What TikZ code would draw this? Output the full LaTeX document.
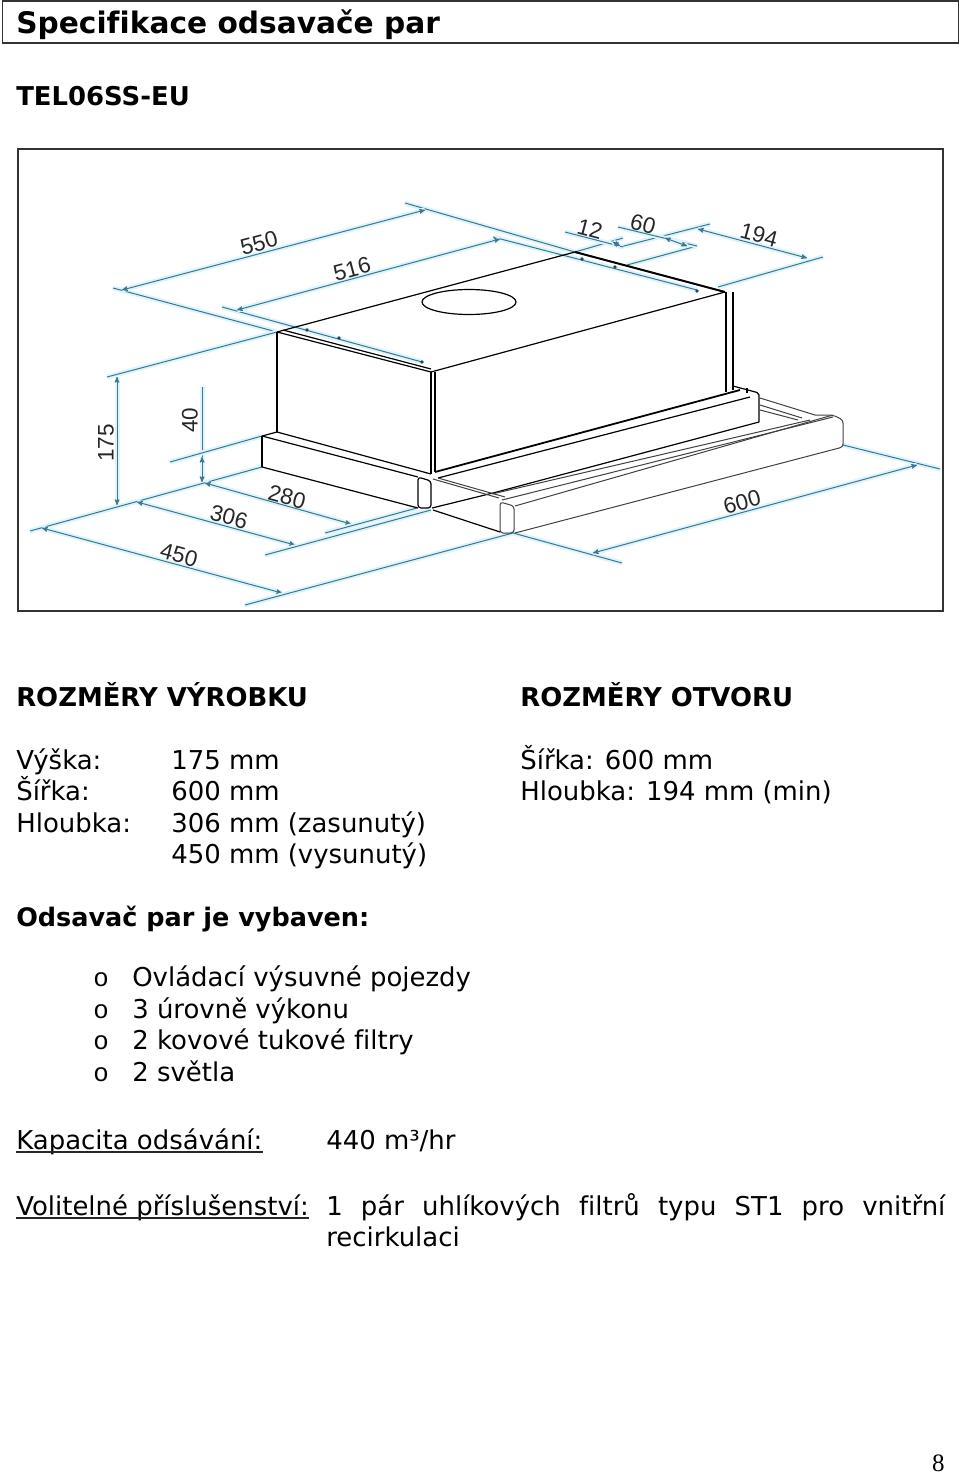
\documentclass[tikz,border=0pt]{standalone}
\usepackage{fontspec}
\setmainfont{DejaVu Sans}[Ligatures=NoCommon]
\newfontfamily\sizefont{Liberation Sans}
\newfontfamily\monofont{Liberation Mono}
\newfontfamily\pagefont{Liberation Serif}
\usetikzlibrary{arrows}

\definecolor{dimblue}{RGB}{58,118,142}
\definecolor{dimglow}{RGB}{222,244,252}

\begin{document}
\begin{tikzpicture}[x=1pt,y=-1pt,>=stealth',semithick]

  \tikzstyle{body}=[anchor=base west,inner sep=0pt,font=\fontsize{25.95}{31}\selectfont]
  \tikzstyle{head}=[anchor=base west,inner sep=0pt,font=\bfseries\fontsize{25.9}{31}\selectfont]
  \tikzstyle{hood}=[black,line width=1.2pt]
  \tikzstyle{thin hood}=[black!75,line width=1pt]
  \tikzstyle{dim}=[dimblue,line width=1pt,preaction={draw=dimglow,line width=5pt,-}]
  \tikzstyle{dimarrow}=[dim,<->]
  \tikzstyle{size}=[inner sep=0pt,text=black!85,font=\sizefont\fontsize{22.5}{26}\selectfont]
  \tikzstyle{rule}=[black!85,line width=1.2pt]

  \useasboundingbox (0,0) rectangle (960,1474);

  % title and frame
  \draw[black!80,line width=1.3pt] (2.5,1) rectangle (958.5,43);
  \node[head,font=\bfseries\fontsize{29.65}{36}\selectfont] (title) at (16,34) {Specifikace odsavače par};
  \node[head] (model) at (16,106) {TEL06SS-EU};
  \draw[black!80,line width=1.4pt] (18,149) rectangle (943,611);

  % dimension lines
  \draw[dim] (113,288) -- (277,332);
  \draw[dim] (405,203) -- (575,252);
  \draw[dimarrow] (122,290) -- (425,210);
  \draw[dim] (222,307) -- (422,362);
  \draw[dim] (493,237) -- (697,290);
  \draw[dimarrow] (237,310) -- (500,239);
  \draw[dim] (107,377) -- (277,332);
  \draw[dim] (30,531) -- (262,467);
  \draw[dimarrow] (117,377) -- (117,505);
  \draw[dimarrow] (202,457) -- (202,482);
  \draw[dim] (202,387) -- (202,457);
  \draw[dim] (170,462) -- (262,436);
  \draw[dimarrow] (205,483) -- (351,524);
  \draw[dim] (325,533) -- (417,508);
  \draw[dimarrow] (137,502) -- (295,545);
  \draw[dim] (265,555) -- (431,510);
  \draw[dimarrow] (42,528) -- (282,593);
  \draw[dim] (245,605) -- (513,533);
  \draw[dim] (513,533) -- (622,563);
  \draw[dim] (843,445) -- (940,469);
  \draw[dimarrow] (593,553) -- (917,465);
  % the short ones at the back
  \draw[dim] (575,252) -- (623,238);
  \draw[dim] (710,224) -- (620,247);
  \draw[dim] (697,246) -- (627,265);
  \draw[dim] (565,232) -- (623,247);
  \draw[dim] (618,227) -- (697,246);
  \draw[dim] (823,257) -- (718,287);
  \draw[dimarrow] (613,242) -- (620,246);
  \draw[dimarrow] (665,238) -- (687,246);
  \draw[dimarrow] (698,229) -- (807,258);
  \foreach \x/\y in {307/330,339/338,422/362,582/259,615/267,697/291}
    \fill[dimblue!60!black] (\x,\y) circle (1.8pt);

  % sizes
  \node[size,rotate=15]  (s550) at (259,243) {550};
  \node[size,rotate=15]  (s516) at (352,269) {516};
  \node[size,rotate=90]  (s175) at (106,443) {175};
  \node[size,rotate=90]  (s40)  at (190,420) {40};
  \node[size,rotate=-15] (s280) at (287,497) {280};
  \node[size,rotate=-15] (s306) at (229,517) {306};
  \node[size,rotate=-15] (s450) at (179,555) {450};
  \node[size,rotate=-15] (s12)  at (590,229) {12};
  \node[size,rotate=-15] (s60)  at (643,224) {60};
  \node[size,rotate=-15] (s194) at (759,235) {194};
  \node[size,rotate=15]  (s600) at (742,502) {600};

  % hood
  \draw[hood] (277,332) -- (575,252);
  \draw[hood,line width=2pt] (575,252) -- (725,292);
  \draw[hood] (277,332) -- (431,372) -- (725,292);
  \draw[hood] (283,330) -- (431,369);
  \draw[hood] (469,302) ellipse (47 and 12.5);
  \draw[hood] (277,332) -- (277,432);
  \draw[hood] (431,372) -- (431,474);
  \draw[hood] (435,372) -- (435,472);
  \draw[hood] (726,292) -- (726,392);
  \draw[hood] (733,292) -- (733,390);
  \draw[hood,line width=1.8pt] (435,472) -- (740,390);
  \draw[hood] (438,478) -- (750,397);

  % front panels
  \draw[hood] (262,436) -- (277,432) -- (431,474);
  \draw[hood] (262,436) -- (418,477);
  \draw[hood] (262,467) -- (418,508);
  \draw[hood] (262,436) -- (262,467);
  \draw[hood,rounded corners=3pt] (418,508) -- (418,477) -- (431,481) -- (431,508) -- cycle;
  \draw[hood,rounded corners=2pt] (733,386) -- (759,393) -- (759,422);
  \draw[hood] (747,388) -- (747,393);
  \draw[hood] (759,422) -- (493,493) -- (432,508);
  \draw[hood] (433,510) -- (500,532);
  \draw[thin hood] (433,479) -- (499,498);
  \draw[thin hood] (438,478) -- (505,497);
  \draw[thin hood] (492,494) -- (810,420);
  \draw[thin hood] (502,500) -- (833,417);
  \draw[thin hood,rounded corners=3pt] (500,533) -- (500,502) -- (514,506) -- (514,533) -- cycle;
  \draw[thin hood,rounded corners=3pt] (515,506) -- (833,415) -- (843,420) -- (843,447) -- (515,533);
  \draw[thin hood] (760,398) -- (815,415) -- (833,415);
  \draw[thin hood] (760,405) -- (802,418);
  \draw[thin hood] (760,410) -- (798,420);

  % product and opening dimensions
  \node[head] (product) at (16,706) {ROZMĚRY VÝROBKU};
  \node[head] (opening) at (520,706) {ROZMĚRY OTVORU};
  \node[body] (height)  at (16,769)  {Výška:};
  \node[body] (width)   at (16,800)  {Šířka:};
  \node[body] (depth)   at (16,832)  {Hloubka:};
  \node[body] (heightv) at (171,769) {175 mm};
  \node[body] (widthv)  at (171,800) {600 mm};
  \node[body] (depthv)  at (171,832) {306 mm (zasunutý)};
  \node[body] (depthw)  at (171,863) {450 mm (vysunutý)};
  \node[body] (openw)   at (520,769) {Šířka: 600 mm};
  \node[body] (opend)   at (520,800) {Hloubka: 194 mm (min)};

  % equipment
  \node[head,font=\bfseries\fontsize{25.5}{31}\selectfont] (equip) at (16,926) {Odsavač par je vybaven:};
  \foreach \y/\item [count=\i] in {986/Ovládací výsuvné pojezdy,1018/3 úrovně výkonu,1049/2 kovové tukové filtry,1081/2 světla} {
    \node[body,font=\monofont\fontsize{25.8}{31}\selectfont] (dot\i) at (93,\y) {o};
    \node[body] (item\i) at (132,\y) {\item};
  }

  % capacity and accessories
  \node[body] (capa)   at (16,1149)  {Kapacita odsávání:};
  \draw[rule] ([yshift=-3pt]capa.base west) -- ([yshift=-3pt]capa.base east);
  \node[body] (capav)  at (326,1149) {440 m³/hr};
  \node[body] (extra)  at (16,1215)  {Volitelné příslušenství:};
  \draw[rule] ([yshift=-3pt]extra.base west) -- ([yshift=-3pt]extra.base east);
  \node[body,text width=619pt,align=justify] (extrav) at (326,1215) {1 pár uhlíkových filtrů typu ST1 pro vnitřní \mbox{recirkulaci}};

  \node[anchor=base east,inner sep=0pt,font=\pagefont\fontsize{25}{30}\selectfont] (page) at (945,1471) {8};
\end{tikzpicture}
\end{document}
